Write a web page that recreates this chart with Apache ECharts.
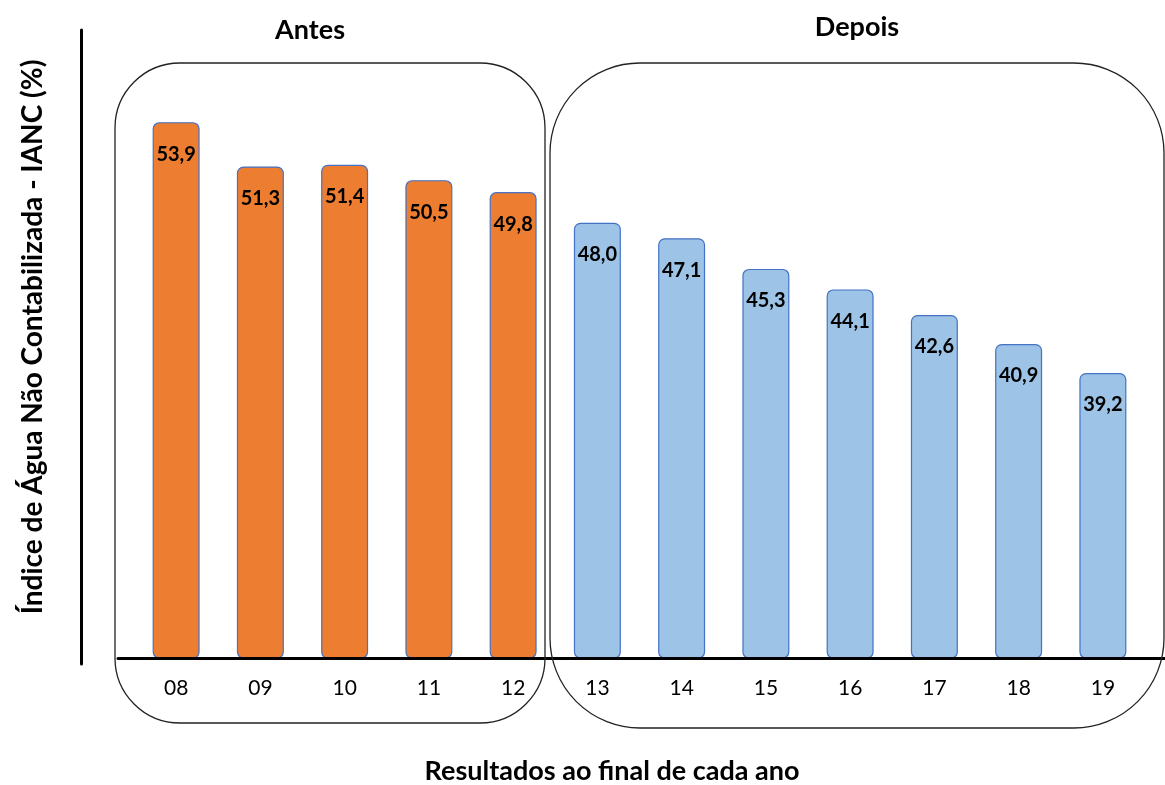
<!DOCTYPE html>
<html>
<head>
<meta charset="utf-8">
<script src="https://cdn.jsdelivr.net/npm/echarts@6/dist/echarts.min.js"></script>
<style>
html,body{margin:0;padding:0;background:#fff;}
#chart{width:1165px;height:785px;}
</style>
</head>
<body>
<div id="chart"></div>
<script>
var categories = ['08','09','10','11','12','13','14','15','16','17','18','19'];
var antesValues = [53.9, 51.3, 51.4, 50.5, 49.8];
var depoisValues = [48.0, 47.1, 45.3, 44.1, 42.6, 40.9, 39.2];
var groupTitles = ['Antes', 'Depois'];
var yTitle = 'Índice de Água Não Contabilizada - IANC (%)';
var xTitle = 'Resultados ao final de cada ano';

var FONT = 'Lato, "Open Sans", sans-serif';

var antesData = categories.map(function (c, i) { return i < antesValues.length ? antesValues[i] : '-'; });
var depoisData = categories.map(function (c, i) { return i >= antesValues.length ? depoisValues[i - antesValues.length] : '-'; });

function fmt(p) { return Number(p.value).toFixed(1).replace('.', ','); }

var labelCfg = {
  show: true, position: 'insideTop', distance: 22,
  formatter: fmt, color: '#000', fontFamily: FONT, fontWeight: 'bold', fontSize: 20
};

var chart = echarts.init(document.getElementById('chart'), null, {renderer: 'canvas'});
chart.setOption({
  backgroundColor: '#ffffff',
  animation: false,
  title: [
    {text: groupTitles[0], left: 305, top: 12, textAlign: 'center',
     textStyle: {fontFamily: FONT, fontWeight: 'bold', fontSize: 27, color: '#000'}},
    {text: groupTitles[1], left: 852, top: 9, textAlign: 'center',
     textStyle: {fontFamily: FONT, fontWeight: 'bold', fontSize: 27, color: '#000'}},
    {text: xTitle, left: 607, top: 753, textAlign: 'center',
     textStyle: {fontFamily: FONT, fontWeight: 'bold', fontSize: 27, color: '#000'}}
  ],
  grid: [
    {left: 134, right: 20, top: 30, bottom: 127},
    {left: 81, width: 10, top: 30, bottom: 121},
    {left: 118, right: 0, top: 30, bottom: 127}
  ],
  xAxis: [
    {type: 'category', gridIndex: 0, data: categories,
     axisLine: {show: false}, axisTick: {show: false},
     axisLabel: {margin: 20, color: '#000', fontFamily: FONT, fontSize: 21}},
    {type: 'value', gridIndex: 1, show: false},
    {type: 'value', gridIndex: 2, z: 5,
     axisLine: {show: true, lineStyle: {color: '#000', width: 3}},
     axisTick: {show: false}, axisLabel: {show: false}, splitLine: {show: false}}
  ],
  yAxis: [
    {type: 'value', gridIndex: 0, min: 22.5, max: 59.3, show: false},
    {type: 'value', gridIndex: 1,
     axisLine: {show: true, lineStyle: {color: '#000', width: 3}},
     axisTick: {show: false}, axisLabel: {show: false}, splitLine: {show: false}},
    {type: 'value', gridIndex: 2, show: false}
  ],
  series: [
    {type: 'bar', name: 'Antes', xAxisIndex: 0, yAxisIndex: 0, data: antesData,
     barWidth: 47, barGap: '-100%',
     itemStyle: {color: '#ED7D31', borderColor: '#4472C4', borderWidth: 1.2, borderRadius: 6},
     label: labelCfg},
    {type: 'bar', name: 'Depois', xAxisIndex: 0, yAxisIndex: 0, data: depoisData,
     barWidth: 47, barGap: '-100%',
     itemStyle: {color: '#9DC3E6', borderColor: '#4472C4', borderWidth: 1.2, borderRadius: 6},
     label: labelCfg}
  ],
  graphic: [
    {type: 'rect', z: 10, shape: {x: 115, y: 63, width: 430, height: 660, r: 65},
     style: {fill: 'none', stroke: '#222', lineWidth: 1.3}},
    {type: 'rect', z: 10, shape: {x: 550, y: 63, width: 614, height: 665, r: 90},
     style: {fill: 'none', stroke: '#222', lineWidth: 1.3}},
    {type: 'text', z: 10, x: 33, y: 337, rotation: Math.PI / 2,
     style: {text: yTitle, fontFamily: FONT, fontWeight: 'bold', fontSize: 28, fill: '#000',
             textAlign: 'center', textVerticalAlign: 'middle'}}
  ]
});
</script>
</body>
</html>
